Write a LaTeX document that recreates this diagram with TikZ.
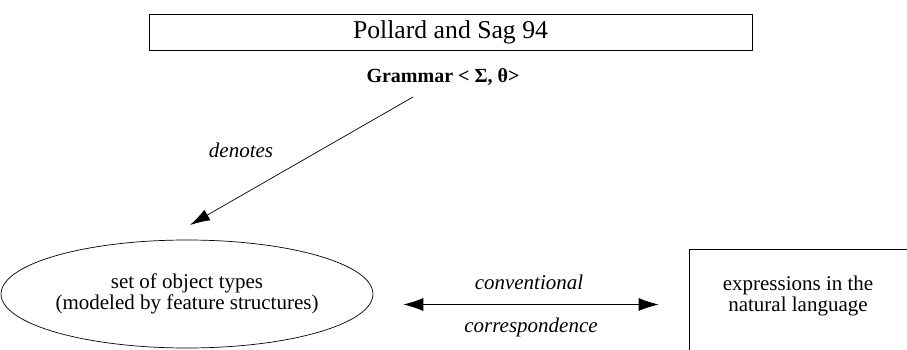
\documentclass[tikz,border=0pt]{standalone}
\usepackage{fontspec}
\setmainfont{Liberation Serif}
\usetikzlibrary{arrows.meta,shapes.geometric}
\begin{document}
\begin{tikzpicture}[x=1pt,y=-1pt,
  lbl/.style={font=\fontsize{21}{21}\selectfont\itshape, inner sep=0pt},
  body/.style={font=\fontsize{21}{21}\selectfont, align=center, inner sep=0pt},
  tip/.style={Latex[length=20pt,width=13pt]},
  thinline/.style={line width=0.7pt}
]
\useasboundingbox (0,0) rectangle (907,350);
\node[draw, line width=0.9pt, minimum width=603pt, minimum height=36pt, inner sep=0pt,
      font=\fontsize{25.7}{26}\selectfont] (title) at (450.5,32) {Pollard and Sag 94};
\node[font=\bfseries\fontsize{20}{20}\selectfont, inner sep=0pt] (gram) at (443,77) {Grammar < Σ, θ>};
\coordinate (a1) at (413,97);
\coordinate (a2) at (190,225);
\draw[thinline, -{Latex[length=20pt,width=12pt]}] (a1) -- (a2);
\node[lbl] (den) at (241,150) {denotes};
\node[draw, thinline, ellipse, minimum width=352pt, minimum height=108pt, inner sep=0pt, body] (ell) at (187,294) {set of object types\\(modeled by feature structures)};
\node[draw, thinline, minimum width=231pt, minimum height=111pt] (box) at (804.5,304.5) {};
\node[body] (nl) at (798,296) {expressions in the\\natural language};
\draw[thinline, {Latex[length=20pt,width=13pt]}-{Latex[length=20pt,width=13pt]}, shorten <=30pt, shorten >=30pt] (ell.east |- box.west) -- (box.west);
\node[lbl] (conv) at (529,282) {conventional};
\node[lbl] (corr) at (531,327) {correspondence};
\end{tikzpicture}
\end{document}
